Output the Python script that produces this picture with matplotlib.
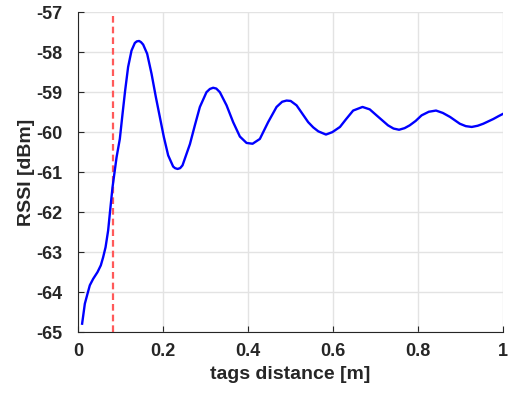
import matplotlib
matplotlib.use('Agg')
from matplotlib import pyplot as plt

# values
distance = [0.0094, 0.0158, 0.0221, 0.0275, 0.0353, 0.0456, 0.0534, 0.0588, 0.0645, 0.0706,
            0.0753, 0.0809, 0.0904, 0.0981, 0.1045, 0.1106, 0.1176, 0.1256, 0.1334, 0.138,
            0.1435, 0.148, 0.1530, 0.1624, 0.1727, 0.1828, 0.1922, 0.2016, 0.2118, 0.2235,
            0.228, 0.2339, 0.240, 0.2456, 0.2551, 0.2630, 0.2746, 0.2864, 0.3020, 0.310,
            0.3176, 0.325, 0.3334, 0.3492, 0.3647, 0.3805, 0.3962, 0.4104, 0.4275, 0.4470,
            0.4668, 0.480, 0.4904, 0.500, 0.5139, 0.5412, 0.553, 0.565, 0.583, 0.598,
            0.616, 0.630, 0.647, 0.669, 0.686, 0.702, 0.729, 0.742, 0.755, 0.768,
            0.780, 0.794, 0.808, 0.825, 0.842, 0.858, 0.875, 0.898, 0.912, 0.926,
            0.940, 0.953, 0.965, 0.977, 0.989, 1.000]
rssi = [-64.79, -64.29, -64.04, -63.83, -63.67, -63.50, -63.33, -63.13, -62.88, -62.46,
        -61.96, -61.38, -60.63, -60.17, -59.54, -58.96, -58.37, -57.96, -57.77, -57.73,
        -57.72, -57.75, -57.81, -58.04, -58.54, -59.12, -59.62, -60.12, -60.58, -60.86,
        -60.90, -60.92, -60.90, -60.83, -60.54, -60.30, -59.83, -59.37, -59.00, -58.92,
        -58.89, -58.91, -59.00, -59.33, -59.75, -60.11, -60.27, -60.29, -60.17, -59.75,
        -59.37, -59.24, -59.21, -59.22, -59.33, -59.75, -59.88, -59.98, -60.06, -60.00,
        -59.87, -59.68, -59.46, -59.37, -59.43, -59.58, -59.83, -59.91, -59.94, -59.90,
        -59.83, -59.72, -59.58, -59.49, -59.46, -59.52, -59.62, -59.79, -59.85, -59.87,
        -59.84, -59.79, -59.73, -59.67, -59.60, -59.54]
marker_x = 0.083
x_ticks = [0, 0.2, 0.4, 0.6, 0.8, 1]
x_labels = ['0', '0.2', '0.4', '0.6', '0.8', '1']
y_ticks = [-65, -64, -63, -62, -61, -60, -59, -58, -57]

plt.rcParams['font.family'] = ['Liberation Sans', 'DejaVu Sans']
plt.rcParams['font.weight'] = 'bold'

fig = plt.figure(figsize=(5.14, 3.93), dpi=100)
ax = fig.add_axes([0.152, 0.155, 0.827, 0.814])

ax.plot(distance, rssi, color='#0000ff', lw=1.7, solid_joinstyle='round', zorder=3)
ax.axvline(marker_x, color='#ff5a5a', lw=1.6, ls=(0, (3, 1.8)), zorder=2)

ax.set_xlim(0, 1)
ax.set_ylim(-65, -57)
ax.set_xticks(x_ticks)
ax.set_xticklabels(x_labels)
ax.set_yticks(y_ticks)
ax.set_yticklabels([str(v) for v in y_ticks])

ax.grid(True, color='#e3e3e3', lw=1.0)
ax.set_axisbelow(True)
for side in ['top', 'right']:
    ax.spines[side].set_visible(False)
for side in ['left', 'bottom']:
    ax.spines[side].set_color('#262626')
    ax.spines[side].set_linewidth(0.8)

ax.tick_params(direction='in', length=4, width=0.8, colors='#262626', labelsize=13)
ax.tick_params(axis='x', pad=8)
ax.tick_params(axis='y', pad=11)
for lbl in ax.get_xticklabels() + ax.get_yticklabels():
    lbl.set_fontweight('bold')

ax.set_xlabel('tags distance [m]', fontsize=14, fontweight='bold', color='#262626', labelpad=4)
ax.set_ylabel('RSSI [dBm]', fontsize=14, fontweight='bold', color='#262626', labelpad=1)

fig.savefig('out.png', dpi=100)
